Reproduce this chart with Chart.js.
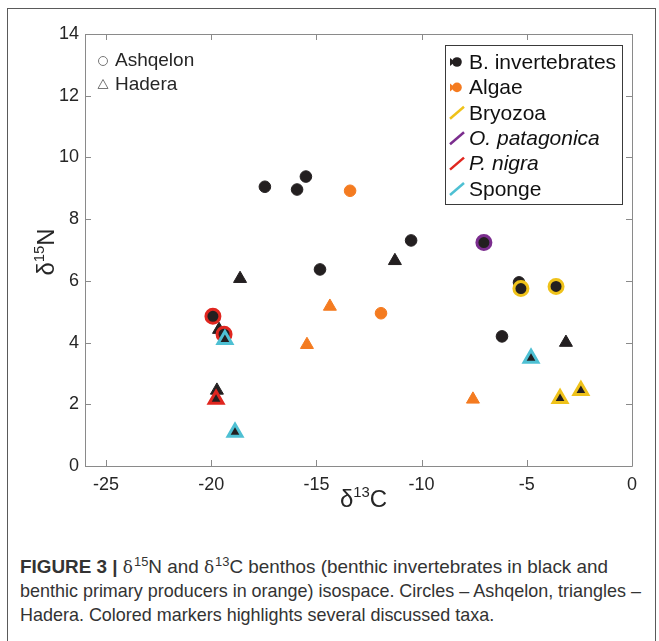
<!DOCTYPE html>
<html>
<head>
<meta charset="utf-8">
<script src="https://cdn.jsdelivr.net/npm/chart.js@4.4.1/dist/chart.umd.min.js"></script>
<style>
  body { margin: 0; background: #fff; }
  #frame { position: absolute; left: 7px; top: 8px; width: 647px; height: 700px;
           border: 1px solid #5a5a5a; border-bottom: none; }
  #wrap { position: absolute; left: 0; top: 0; width: 659px; height: 530px; }
  #caption { position: absolute; left: 20px; top: 555px; color: #333;
             font-family: "Liberation Sans", Arial, sans-serif;
             font-size: 19px; line-height: 24px; white-space: nowrap; }
  #caption div { transform-origin: 0 50%; width: max-content; }
  #caption sup { font-size: 13px; line-height: 0; vertical-align: 7px; }
  #caption .d { font-family: "DejaVu Serif", serif; font-size: 17px; margin-right: 1px; }
</style>
</head>
<body>
<div id="frame"></div>
<div id="wrap"><canvas id="chart"></canvas></div>
<div id="caption">
  <div><b>FIGURE 3 |</b> <span class="d">δ</span><sup>15</sup>N and <span class="d">δ</span><sup>13</sup>C benthos (benthic invertebrates in black and</div>
  <div>benthic primary producers in orange) isospace. Circles – Ashqelon, triangles –</div>
  <div>Hadera. Colored markers highlights several discussed taxa.</div>
</div>
<script>
// tick values
const xTicks = [-25, -20, -15, -10, -5, 0];
const yTicks = [0, 2, 4, 6, 8, 10, 12, 14];

// delta13C / delta15N per group (circles = Ashqelon, triangles = Hadera)
const invAshC = [-17.45, -15.92, -15.5, -10.5, -14.83, -5.37, -6.18];
const invAshN = [9.05, 8.96, 9.38, 7.31, 6.37, 5.95, 4.2];
const invHadC = [-18.63, -11.27, -19.63, -19.73, -3.14];
const invHadN = [6.07, 6.65, 4.42, 2.45, 4.0];
const algAshC = [-13.4, -11.93];
const algAshN = [8.92, 4.95];
const algHadC = [-14.36, -15.45, -7.56];
const algHadN = [5.17, 3.93, 2.16];
const bryAshC = [-5.28, -3.61];
const bryAshN = [5.75, 5.82];
const bryHadC = [-3.42, -2.43];
const bryHadN = [2.19, 2.45];
const opatAshC = [-7.04];
const opatAshN = [7.24];
const pnigAshC = [-19.92, -19.39];
const pnigAshN = [4.85, 4.27];
const pnigHadC = [-19.77];
const pnigHadN = [2.16];
const spoHadC = [-19.35, -18.87, -4.8];
const spoHadN = [4.1, 1.09, 3.49];

const BLACK = "#231f20", ORANGE = "#f47b20", YELLOW = "#efc21a",
      PURPLE = "#7b2d8e", RED = "#e0261f", CYAN = "#4ec0d3";

function pts(cs, ns) {
    return cs.map((c, i) => ({ x: c, y: ns[i] }));
}

function plain(cs, ns, color, shape) {
    const tri = shape === "triangle";
    return {
        data: pts(cs, ns), pointStyle: shape,
        pointRadius: tri ? 7.5 : 5.8, borderWidth: 1,
        backgroundColor: color, borderColor: color
    };
}

function ringed(cs, ns, ring, shape) {
    const tri = shape === "triangle";
    return {
        data: pts(cs, ns), pointStyle: shape,
        pointRadius: tri ? 8 : 7, borderWidth: 3,
        backgroundColor: BLACK, borderColor: ring
    };
}

// first dataset is drawn on top
const datasets = [
    ringed(spoHadC, spoHadN, CYAN, "triangle"),
    ringed(pnigHadC, pnigHadN, RED, "triangle"),
    ringed(pnigAshC, pnigAshN, RED, "circle"),
    ringed(bryHadC, bryHadN, YELLOW, "triangle"),
    ringed(bryAshC, bryAshN, YELLOW, "circle"),
    ringed(opatAshC, opatAshN, PURPLE, "circle"),
    plain(algHadC, algHadN, ORANGE, "triangle"),
    plain(algAshC, algAshN, ORANGE, "circle"),
    plain(invHadC, invHadN, BLACK, "triangle"),
    plain(invAshC, invAshN, BLACK, "circle")
];

function drawSup(ctx, parts, size) {
    let w = 0;
    parts.forEach(p => {
        ctx.font = (p.sup ? size * 0.62 : size) + "px 'Liberation Sans', Arial";
        p.w = ctx.measureText(p.t).width;
        w += p.w;
    });
    let x = -w / 2;
    parts.forEach(p => {
        ctx.font = (p.sup ? size * 0.62 : size) + "px 'Liberation Sans', Arial";
        ctx.fillText(p.t, x, p.sup ? -size * 0.42 : 0);
        x += p.w;
    });
}

// MATLAB-like box, inner ticks, titles and both legends
const decor = {
    id: "decor",
    afterDraw(chart) {
        const ctx = chart.ctx, a = chart.chartArea;
        const xs = chart.scales.x, ys = chart.scales.y;
        ctx.save();
        ctx.strokeStyle = "#8a8a8a";
        ctx.lineWidth = 1;
        ctx.beginPath();
        ctx.rect(Math.round(a.left) + 0.5, Math.round(a.top) + 0.5,
                 Math.round(a.right - a.left), Math.round(a.bottom - a.top));
        xTicks.forEach(v => {
            const px = Math.round(xs.getPixelForValue(v)) + 0.5;
            ctx.moveTo(px, a.bottom); ctx.lineTo(px, a.bottom - 6);
            ctx.moveTo(px, a.top); ctx.lineTo(px, a.top + 6);
        });
        yTicks.forEach(v => {
            const py = Math.round(ys.getPixelForValue(v)) + 0.5;
            ctx.moveTo(a.left, py); ctx.lineTo(a.left + 6, py);
            ctx.moveTo(a.right, py); ctx.lineTo(a.right - 6, py);
        });
        ctx.stroke();

        // axis titles
        ctx.fillStyle = "#262626";
        ctx.textBaseline = "alphabetic";
        ctx.textAlign = "left";
        ctx.save();
        ctx.translate((a.left + a.right) / 2 + 5, 507);
        drawSup(ctx, [{ t: "δ" }, { t: "13", sup: true }, { t: "C" }], 24);
        ctx.restore();
        ctx.save();
        ctx.translate(54, 252);
        ctx.rotate(-Math.PI / 2);
        drawSup(ctx, [{ t: "δ" }, { t: "15", sup: true }, { t: "N" }], 24);
        ctx.restore();

        // site legend
        ctx.strokeStyle = "#777";
        ctx.beginPath();
        ctx.arc(103, 61, 4.5, 0, Math.PI * 2);
        ctx.stroke();
        ctx.beginPath();
        ctx.moveTo(103, 79.5); ctx.lineTo(108, 88.5); ctx.lineTo(98, 88.5); ctx.closePath();
        ctx.stroke();
        ctx.font = "19px 'Liberation Sans', Arial";
        ctx.textBaseline = "middle";
        ctx.fillText("Ashqelon", 115, 61);
        ctx.fillText("Hadera", 115, 85);

        // taxa legend
        ctx.strokeStyle = "#3a3a3a";
        ctx.strokeRect(445.5, 45.5, 177, 159);
        const rows = [
            { t: "B. invertebrates", c: BLACK, blob: true },
            { t: "Algae", c: ORANGE, blob: true },
            { t: "Bryozoa", c: YELLOW },
            { t: "O. patagonica", c: PURPLE, it: true },
            { t: "P. nigra", c: RED, it: true },
            { t: "Sponge", c: CYAN }
        ];
        rows.forEach((r, i) => {
            const y = 62 + i * 25.4;
            if (r.blob) {
                ctx.fillStyle = r.c;
                ctx.beginPath();
                ctx.arc(457, y, 4.8, 0, Math.PI * 2);
                ctx.fill();
                ctx.beginPath();
                ctx.moveTo(450, y - 4); ctx.lineTo(455, y); ctx.lineTo(450, y + 4); ctx.closePath();
                ctx.fill();
            } else {
                ctx.strokeStyle = r.c;
                ctx.lineWidth = 2.5;
                ctx.beginPath();
                ctx.moveTo(450, y + 6); ctx.lineTo(464, y - 6);
                ctx.stroke();
            }
            ctx.fillStyle = "#111";
            ctx.font = (r.it ? "italic " : "") + "21px 'Liberation Sans', Arial";
            ctx.fillText(r.t, 469, y + 1);
        });
        ctx.restore();
    }
};

const tickFont = { size: 18, family: "'Liberation Sans', Arial" };

new Chart(document.getElementById("chart"), {
    type: "scatter",
    data: { datasets: datasets },
    options: {
        responsive: true,
        maintainAspectRatio: false,
        animation: false,
        events: [],
        layout: { padding: { top: 34, right: 27, left: 0, bottom: 0 } },
        plugins: { legend: { display: false }, tooltip: { enabled: false } },
        scales: {
            x: {
                type: "linear", min: -26, max: 0,
                afterBuildTicks: s => { s.ticks = xTicks.map(v => ({ value: v })); },
                afterFit: s => { s.height = 64; },
                grid: { display: false, drawTicks: false }, border: { display: false },
                ticks: { padding: 8, color: "#262626", font: tickFont }
            },
            y: {
                type: "linear", min: 0, max: 14,
                afterBuildTicks: s => { s.ticks = yTicks.map(v => ({ value: v })); },
                afterFit: s => { s.width = 85; },
                grid: { display: false, drawTicks: false }, border: { display: false },
                ticks: { padding: 6, color: "#262626", font: tickFont }
            }
        }
    },
    plugins: [decor]
});

// the printed caption uses a condensed face: squeeze each line to its printed width
const capLines = document.querySelectorAll("#caption div");
const capWidths = [588, 621, 477];
const squeeze = capWidths[1] / capLines[1].getBoundingClientRect().width;
capLines.forEach((d, i) => {
    const s = i === 0 ? capWidths[0] / d.getBoundingClientRect().width : squeeze;
    d.style.transform = "scaleX(" + s + ")";
});
</script>
</body>
</html>
